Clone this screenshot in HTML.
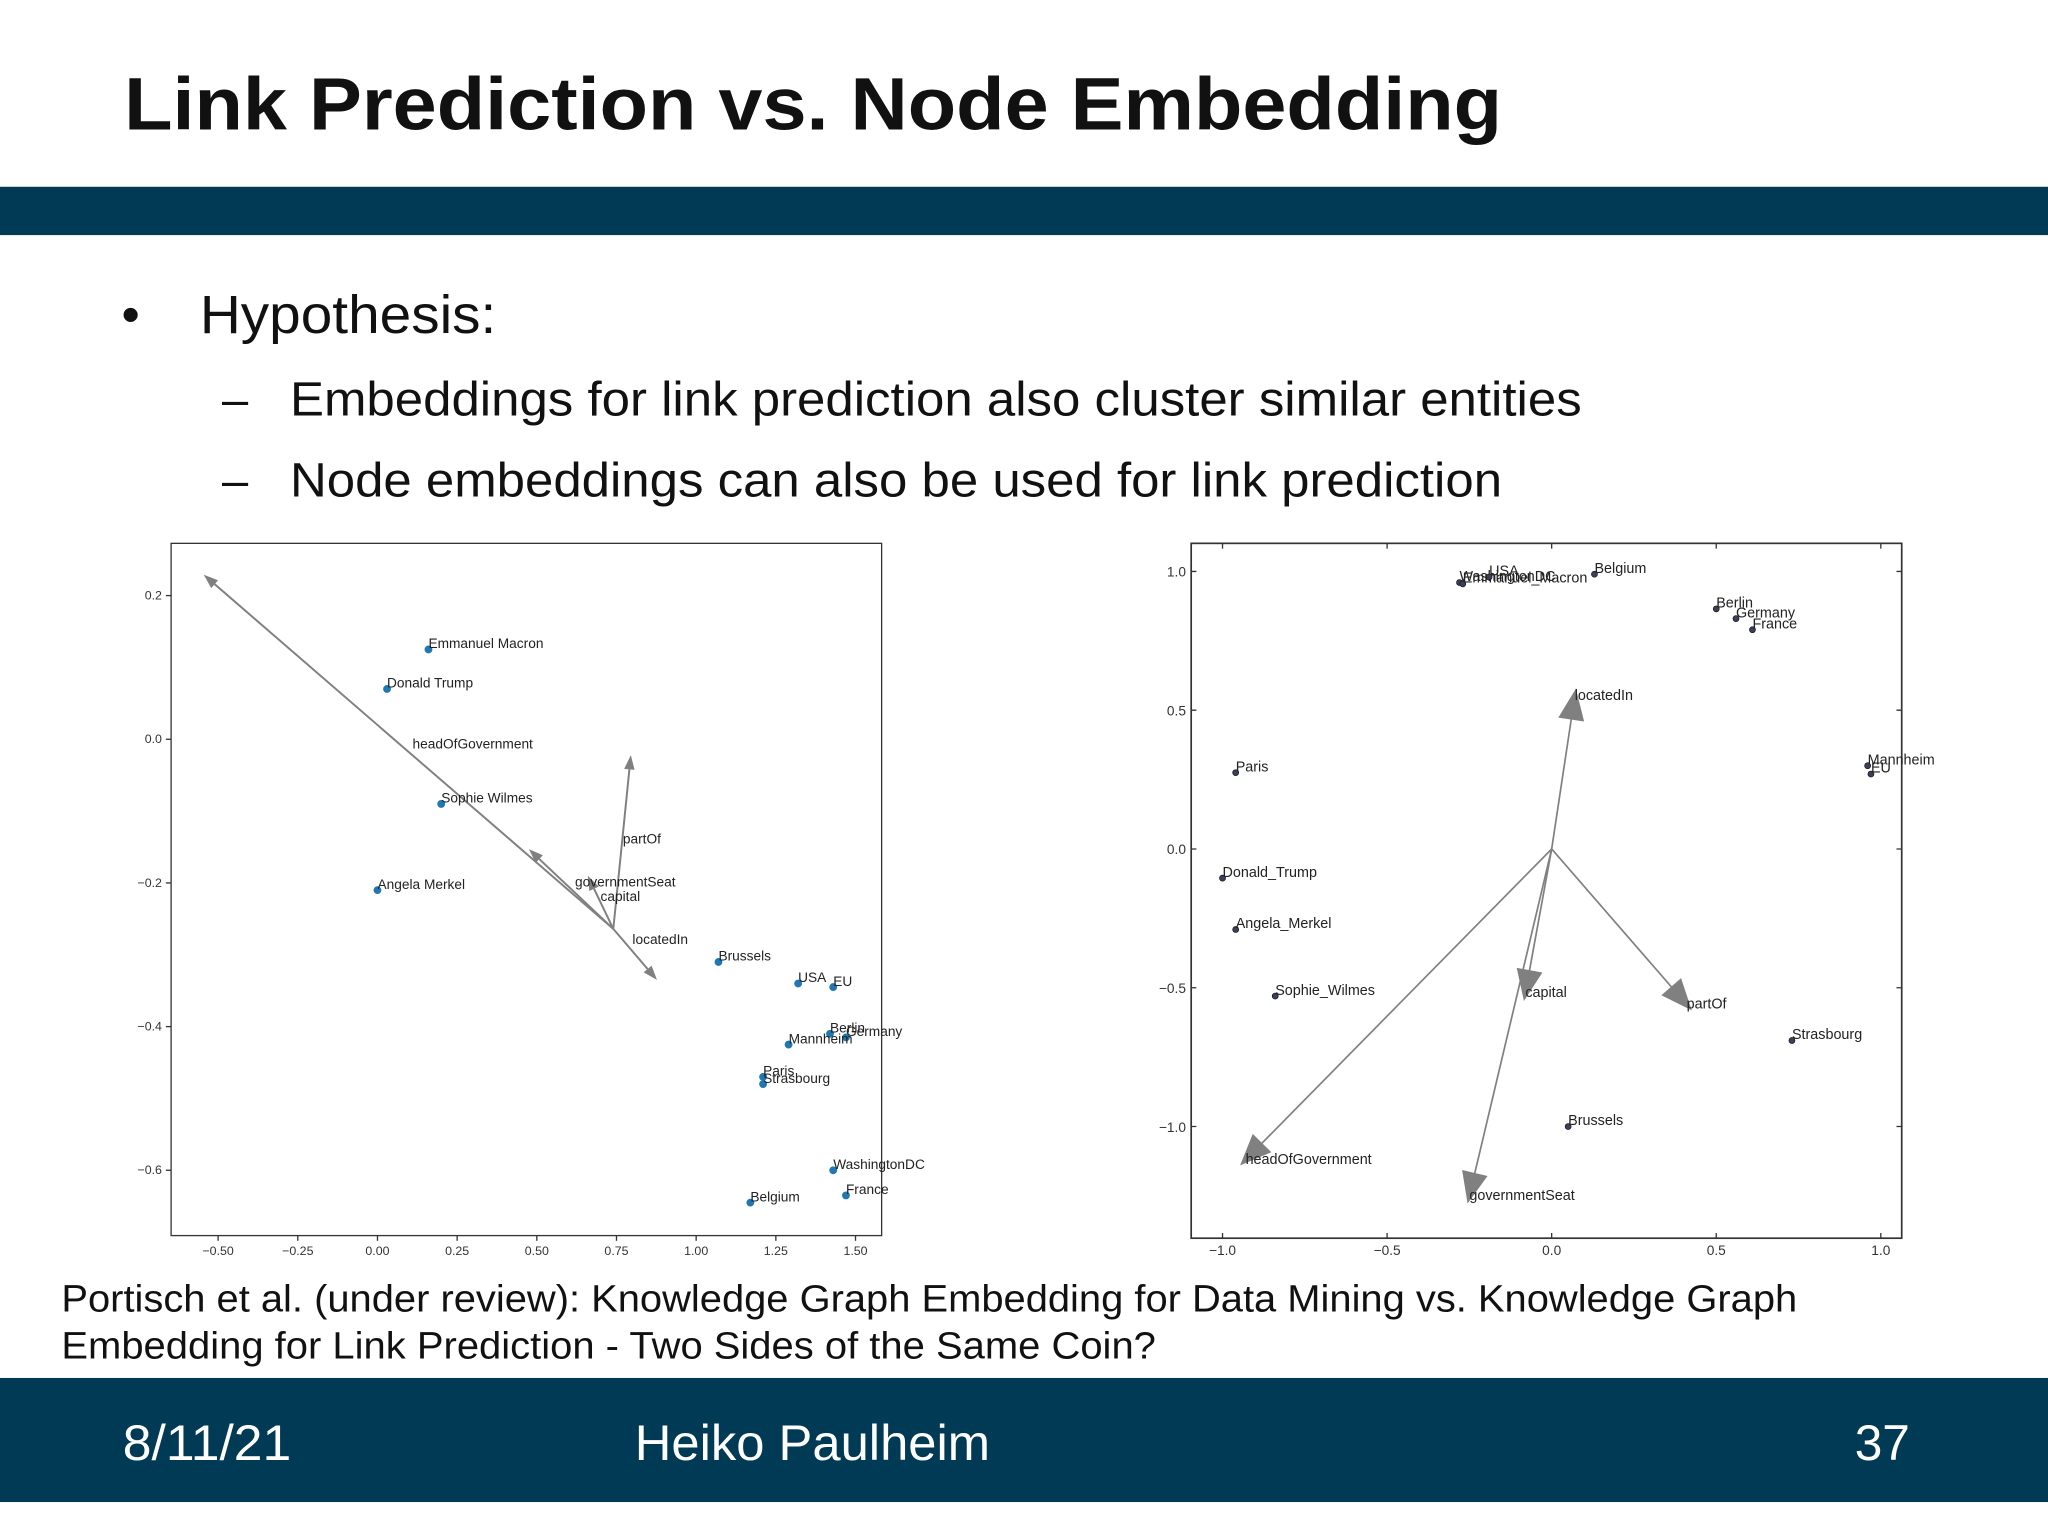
<!DOCTYPE html>
<html><head><meta charset="utf-8">
<style>
html,body{margin:0;padding:0;background:#fff;}
svg{display:block;}
text{font-family:"Liberation Sans",sans-serif;}
</style></head>
<body>
<svg id="slide" width="2048" height="1536" viewBox="0 0 1568 1176" xmlns="http://www.w3.org/2000/svg">
<rect x="0" y="0" width="1568" height="1176" fill="#fff"/>
<text x="95" y="99" font-size="57" font-weight="bold" fill="#111" textLength="1055" lengthAdjust="spacingAndGlyphs">Link Prediction vs. Node Embedding</text>
<rect x="0" y="143" width="1568" height="37" fill="#003a54"/>
<text x="93" y="254" font-size="40" fill="#111">•</text>
<text x="153" y="255" font-size="41" fill="#111" textLength="227" lengthAdjust="spacingAndGlyphs">Hypothesis:</text>
<text x="170" y="318" font-size="36" fill="#111">–</text>
<text x="222" y="318" font-size="37" fill="#111" textLength="989" lengthAdjust="spacingAndGlyphs">Embeddings for link prediction also cluster similar entities</text>
<text x="170" y="380" font-size="36" fill="#111">–</text>
<text x="222" y="380" font-size="37" fill="#111" textLength="928" lengthAdjust="spacingAndGlyphs">Node embeddings can also be used for link prediction</text>
<g id="left"></g>
<g id="right"></g>
<text x="47" y="1004" font-size="29" fill="#111" textLength="1329" lengthAdjust="spacingAndGlyphs">Portisch et al. (under review): Knowledge Graph Embedding for Data Mining vs. Knowledge Graph</text>
<text x="47" y="1040" font-size="29" fill="#111" textLength="838" lengthAdjust="spacingAndGlyphs">Embedding for Link Prediction - Two Sides of the Same Coin?</text>
<rect x="0" y="1055" width="1568" height="95" fill="#003a54"/>
<text x="94" y="1118" font-size="38" fill="#fff" textLength="129" lengthAdjust="spacingAndGlyphs">8/11/21</text>
<text x="486" y="1118" font-size="38" fill="#fff" textLength="272" lengthAdjust="spacingAndGlyphs">Heiko Paulheim</text>
<text x="1420" y="1118" font-size="38" fill="#fff">37</text>
</svg>
<script>
// Left chart data
const leftNames = ["Emmanuel Macron","Donald Trump","Sophie Wilmes","Angela Merkel","Brussels","USA","EU","Berlin","Germany","Mannheim","Paris","Strasbourg","WashingtonDC","France","Belgium"];
const leftX = [0.16,0.03,0.2,0.0,1.07,1.32,1.43,1.42,1.47,1.29,1.21,1.21,1.43,1.47,1.17];
const leftY = [0.125,0.07,-0.09,-0.21,-0.31,-0.34,-0.345,-0.41,-0.415,-0.425,-0.47,-0.48,-0.60,-0.635,-0.645];
const leftRel = ["headOfGovernment","partOf","locatedIn","capital","governmentSeat"];
const leftOrigin = [0.74,-0.264];
const leftTipX = [-0.545,0.795,0.877,0.475,0.66];
const leftTipY = [0.229,-0.022,-0.335,-0.153,-0.19];
const leftLabX = [0.11,0.77,0.80,0.70,0.62];
const leftLabY = [-0.013,-0.145,-0.285,-0.225,-0.205];
const leftXTicks = [-0.5,-0.25,0,0.25,0.5,0.75,1.0,1.25,1.5];
const leftXTickLabels = ["−0.50","−0.25","0.00","0.25","0.50","0.75","1.00","1.25","1.50"];
const leftYTicks = [0.2,0,-0.2,-0.4,-0.6];
const leftYTickLabels = ["0.2","0.0","−0.2","−0.4","−0.6"];
// Right chart data
const rightNames = ["WashingtonDC","Emmanuel_Macron","USA","Belgium","Berlin","Germany","France","Mannheim","EU","Paris","Donald_Trump","Angela_Merkel","Sophie_Wilmes","Strasbourg","Brussels"];
const rightX = [-0.28,-0.27,-0.19,0.13,0.5,0.56,0.61,0.96,0.97,-0.96,-1.0,-0.96,-0.84,0.73,0.05];
const rightY = [0.96,0.955,0.98,0.99,0.865,0.83,0.79,0.3,0.27,0.275,-0.105,-0.29,-0.53,-0.69,-1.0];
const rightRel = ["locatedIn","capital","partOf","headOfGovernment","governmentSeat"];
const rightTipX = [0.07,-0.08,0.41,-0.93,-0.25];
const rightTipY = [0.55,-0.52,-0.56,-1.12,-1.25];
const rightXTicks = [-1,-0.5,0,0.5,1];
const rightXTickLabels = ["−1.0","−0.5","0.0","0.5","1.0"];
const rightYTicks = [1,0.5,0,-0.5,-1];
const rightYTickLabels = ["1.0","0.5","0.0","−0.5","−1.0"];

const NS="http://www.w3.org/2000/svg";
function mk(parent,tag,attrs){const e=document.createElementNS(NS,tag);for(const k in attrs)e.setAttribute(k,attrs[k]);parent.appendChild(e);return e;}

// Left chart
(function(){
 const g=document.getElementById('left');
 const L=131,R=675,T=416,B=946;
 const sx=v=>289+v*244, sy=v=>566-v*550;
 const fr=mk(g,'rect',{x:L,y:T,width:R-L,height:B-T,fill:'#fff',stroke:'#333','stroke-width':1});
 
 
 leftXTicks.forEach((v,i)=>{
  const t=mk(g,'line',{x1:sx(v),x2:sx(v),y1:B,y2:B+4,stroke:'#333'});
  
  
  const l=mk(g,'text',{x:sx(v),y:B+15,'font-size':9.5,'text-anchor':'middle',fill:'#333'});
  
  
  l.textContent=leftXTickLabels[i];
 });
 leftYTicks.forEach((v,i)=>{
  const t=mk(g,'line',{x1:L-4,x2:L,y1:sy(v),y2:sy(v),stroke:'#333'});
  
  
  const l=mk(g,'text',{x:L-7,y:sy(v)+3,'font-size':9.5,'text-anchor':'end',fill:'#333'});
  
  
  l.textContent=leftYTickLabels[i];
 });
 const ox=sx(leftOrigin[0]), oy=sy(leftOrigin[1]);
 leftRel.forEach((r,i)=>{
  const tx=sx(leftTipX[i]), ty=sy(leftTipY[i]);
  const a=Math.atan2(ty-oy,tx-ox), h=11, w=4;
  const bx=tx-h*Math.cos(a), by=ty-h*Math.sin(a);
  const ln=mk(g,'line',{x1:ox,y1:oy,x2:bx,y2:by,stroke:'#808080','stroke-width':1.5});
  
  
  const p=mk(g,'polygon',{points:`${tx},${ty} ${bx+w*Math.sin(a)},${by-w*Math.cos(a)} ${bx-w*Math.sin(a)},${by+w*Math.cos(a)}`,fill:'#808080'});
  
  
  const l=mk(g,'text',{x:sx(leftLabX[i]),y:sy(leftLabY[i]),'font-size':10.5,fill:'#222'});
  
  
  l.textContent=r;
 });
 leftNames.forEach((n,i)=>{
  const c=mk(g,'circle',{cx:sx(leftX[i]),cy:sy(leftY[i]),r:3,fill:'#1f77b4'});
  
  
  const l=mk(g,'text',{x:sx(leftX[i]),y:sy(leftY[i])-1,'font-size':10.5,fill:'#222'});
  
  
  l.textContent=n;
 });
})();

// Right chart
(function(){
 const g=document.getElementById('right');
 const L=912,R=1456,T=416,B=948;
 const sx=v=>1188+v*252, sy=v=>650-v*212.5;
 const fr=mk(g,'rect',{x:L,y:T,width:R-L,height:B-T,fill:'#fff',stroke:'#333','stroke-width':1.3});
 
 
 rightXTicks.forEach((v,i)=>{
  const t=mk(g,'path',{d:`M${sx(v)},${B}v-4M${sx(v)},${T}v4`,stroke:'#333'});
  
  
  const l=mk(g,'text',{x:sx(v),y:B+13,'font-size':10.5,'text-anchor':'middle',fill:'#333'});
  
  
  l.textContent=rightXTickLabels[i];
 });
 rightYTicks.forEach((v,i)=>{
  const t=mk(g,'path',{d:`M${L},${sy(v)}h4M${R},${sy(v)}h-4`,stroke:'#333'});
  
  
  const l=mk(g,'text',{x:L-4,y:sy(v)+4,'font-size':10.5,'text-anchor':'end',fill:'#333'});
  
  
  l.textContent=rightYTickLabels[i];
 });
 const ox=sx(0), oy=sy(0);
 rightRel.forEach((r,i)=>{
  const tx=sx(rightTipX[i]), ty=sy(rightTipY[i]);
  const a=Math.atan2(ty-oy,tx-ox), h=18, w=10;
  const bx=tx-h*Math.cos(a), by=ty-h*Math.sin(a);
  const ln=mk(g,'line',{x1:ox,y1:oy,x2:tx,y2:ty,stroke:'#808080','stroke-width':1.3});
  
  
  const p=mk(g,'polygon',{points:`${tx+6*Math.cos(a)},${ty+6*Math.sin(a)} ${bx+w*Math.sin(a)},${by-w*Math.cos(a)} ${bx-w*Math.sin(a)},${by+w*Math.cos(a)}`,fill:'#808080'});
  
  
  const l=mk(g,'text',{x:tx,y:ty+3,'font-size':11,fill:'#222'});
  
  
  l.textContent=r;
 });
 rightNames.forEach((n,i)=>{
  const c=mk(g,'circle',{cx:sx(rightX[i]),cy:sy(rightY[i]),r:2.3,fill:'#3a3f5c',stroke:'#111','stroke-width':0.5});
  
  
  const l=mk(g,'text',{x:sx(rightX[i]),y:sy(rightY[i])-1,'font-size':11,fill:'#222'});
  
  
  l.textContent=n;
 });
})();
</script>
</body></html>
